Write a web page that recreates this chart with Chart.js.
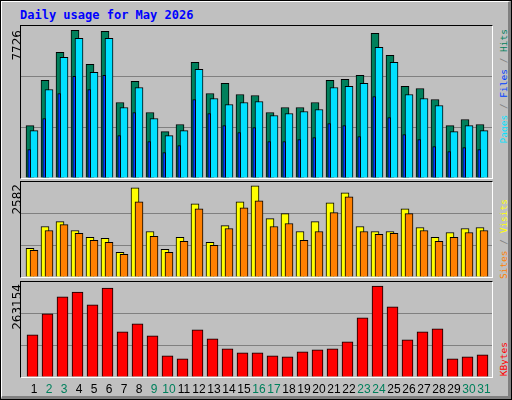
<!DOCTYPE html>
<html>
<head>
<meta charset="utf-8">
<script src="https://cdn.jsdelivr.net/npm/chart.js@4.4.1/dist/chart.umd.min.js"></script>
<style>
  body { margin: 0; background: #c0c0c0; }
  #frame { position: absolute; left: 0; top: 0; width: 510px; height: 398px; border: 1px solid #000; background: #c0c0c0; overflow: hidden; }
  #frame::after { content: ''; position: absolute; left: 0; top: 0; right: 0; bottom: 0; border-top: 1px solid #fff; border-left: 1px solid #fff; border-right: 3px solid #808080; border-bottom: 3px solid #808080; pointer-events: none; }
  .box { position: absolute; border: 1px solid #000; border-right-color: #fff; border-bottom-color: #fff; }
  canvas { position: absolute; }
  .t { position: absolute; white-space: nowrap; }
  .rot { position: absolute; width: 150px; transform: rotate(-90deg); transform-origin: left top; text-align: right; white-space: nowrap; }
  .day { position: absolute; top: 381px; width: 20px; text-align: center; font: 12px "Liberation Sans", sans-serif; color: #000; }
</style>
</head>
<body>
<div id="frame">
  <div class="t" style="left:19px;top:7px;font:bold 12px 'DejaVu Sans Mono',monospace;color:#0000ff;">Daily usage for May 2026</div>
  <div class="box" style="left:19px;top:24px;width:471px;height:152px;"></div>
  <div class="box" style="left:19px;top:180px;width:471px;height:95px;"></div>
  <div class="box" style="left:19px;top:280px;width:471px;height:95px;"></div>
  <canvas id="c1" width="471" height="152" style="left:20px;top:25px;"></canvas>
  <canvas id="c2" width="471" height="95" style="left:20px;top:181px;"></canvas>
  <canvas id="c3" width="471" height="95" style="left:20px;top:281px;"></canvas>
  <div class="rot" style="left:9px;top:179px;font:12px 'DejaVu Sans',sans-serif;">7726</div>
  <div class="rot" style="left:9px;top:333px;font:12px 'DejaVu Sans',sans-serif;">2582</div>
  <div class="rot" style="left:9px;top:433px;font:12px 'DejaVu Sans',sans-serif;">263154</div>
  <div class="rot" style="left:497px;top:178px;font:9.5px 'DejaVu Sans Mono',monospace;color:#808080;"><span style="color:#00e0ff">Pages</span> / <span style="color:#0040ff">Files</span> / <span style="color:#00805c">Hits</span></div>
  <div class="rot" style="left:497px;top:348px;font:9.5px 'DejaVu Sans Mono',monospace;color:#808080;"><span style="color:#ff8000">Sites</span> / <span style="color:#ffff00">Visits</span></div>
  <div class="rot" style="left:497px;top:491px;font:9.5px 'DejaVu Sans Mono',monospace;color:#ff0000;">KBytes</div>
  <div id="days"></div>
</div>
<script>
const days = Array.from({ length: 31 }, (_, i) => i + 1);
const weekend = [2, 3, 9, 10, 16, 17, 23, 24, 30, 31];

const hits = [2744, 5104, 6572, 7726, 5943, 7674, 3950, 5052, 3426, 2430, 2797, 6048, 4422, 4947, 4370, 4318,
  3426, 3688, 3688, 3950, 5104, 5157, 5366, 7569, 6415, 4790, 4685, 4108, 2744, 3059, 2797];
const files = [2482, 4632, 6310, 7307, 5524, 7307, 3688, 4737, 3111, 2220, 2482, 5681, 4160, 3846, 3950, 4003,
  3269, 3374, 3479, 3583, 4737, 4790, 4947, 6835, 6048, 4370, 4160, 3793, 2430, 2744, 2482];
const pages = [1486, 3111, 4422, 5314, 4632, 5366, 2220, 3426, 1905, 1328, 1696, 4108, 3374, 2744, 2377, 2639,
  1905, 1905, 2010, 2115, 2849, 2744, 2168, 4265, 3164, 2272, 2010, 1643, 1381, 1591, 1486];
const visits = [814, 1431, 1572, 1319, 1123, 1095, 702, 2526, 1291, 786, 1123, 2077, 982, 1459, 2133, 2582,
  1656, 1796, 1291, 1572, 2105, 2386, 1431, 1291, 1291, 1936, 1403, 1123, 1263, 1375, 1403];
const sites = [758, 1319, 1487, 1235, 1038, 982, 645, 2133, 1151, 702, 1010, 1936, 898, 1375, 1965, 2161,
  1431, 1516, 1038, 1291, 1824, 2273, 1291, 1207, 1235, 1796, 1319, 1010, 1123, 1263, 1319];
const kbytes = [121971, 182476, 231456, 245862, 208407, 257387, 130614, 153664, 119090, 61466, 52822, 136377,
  110446, 81634, 70109, 70109, 61466, 58584, 72990, 78753, 81634, 101802, 170951, 263154, 202644, 107565,
  130614, 139258, 52822, 58584, 64347];

// day labels
const dayBox = document.getElementById('days');
days.forEach((d, i) => {
  const el = document.createElement('div');
  el.className = 'day';
  el.style.left = (23 + 15 * i) + 'px';
  el.style.color = weekend.includes(d) ? '#00805c' : '#000';
  el.textContent = d;
  dayBox.appendChild(el);
});

function xAxis(min) {
  return { type: 'linear', display: false, offset: false, bounds: 'ticks', min: min, max: min + 31.4 };
}

function yAxis(max) {
  return {
    min: 0, max: max, display: true,
    ticks: { display: false, stepSize: max / 3 },
    border: { display: false },
    grid: { drawTicks: false, color: c => (c.tick.value > 0 && c.tick.value < max * 0.99) ? '#808080' : 'transparent' },
    afterFit: s => { s.width = 0; }
  };
}

function ds(values, color, xId, thick, order) {
  return {
    data: values.map((v, i) => ({ x: days[i], y: v })),
    backgroundColor: color, borderColor: '#000', borderWidth: 1, borderSkipped: 'bottom',
    xAxisID: xId, barThickness: thick, grouped: false, order: order
  };
}

function panel(id, datasets, xmins, ymax) {
  const scales = { y: yAxis(ymax) };
  Object.keys(xmins).forEach(k => { scales[k] = xAxis(xmins[k]); });
  new Chart(document.getElementById(id), {
    type: 'bar',
    data: { datasets: datasets },
    options: {
      responsive: false, animation: false,
      layout: { padding: 0 },
      plugins: { legend: { display: false }, tooltip: { enabled: false } },
      scales: scales
    }
  });
}

panel('c1', [
  ds(hits, '#00805c', 'xh', 8, 3),
  ds(files, '#00e0ff', 'xf', 8, 2),
  ds(pages, '#0040ff', 'xp', 3, 1)
], { xh: 0.4, xf: 0.133, xp: 0.453 }, 7953);

panel('c2', [
  ds(visits, '#ffff00', 'xh', 8, 2),
  ds(sites, '#ff8000', 'xf', 8, 1)
], { xh: 0.4, xf: 0.133 }, 2694);

panel('c3', [
  ds(kbytes, '#ff0000', 'xk', 11, 1)
], { xk: 0.233 }, 274679);
</script>
</body>
</html>
